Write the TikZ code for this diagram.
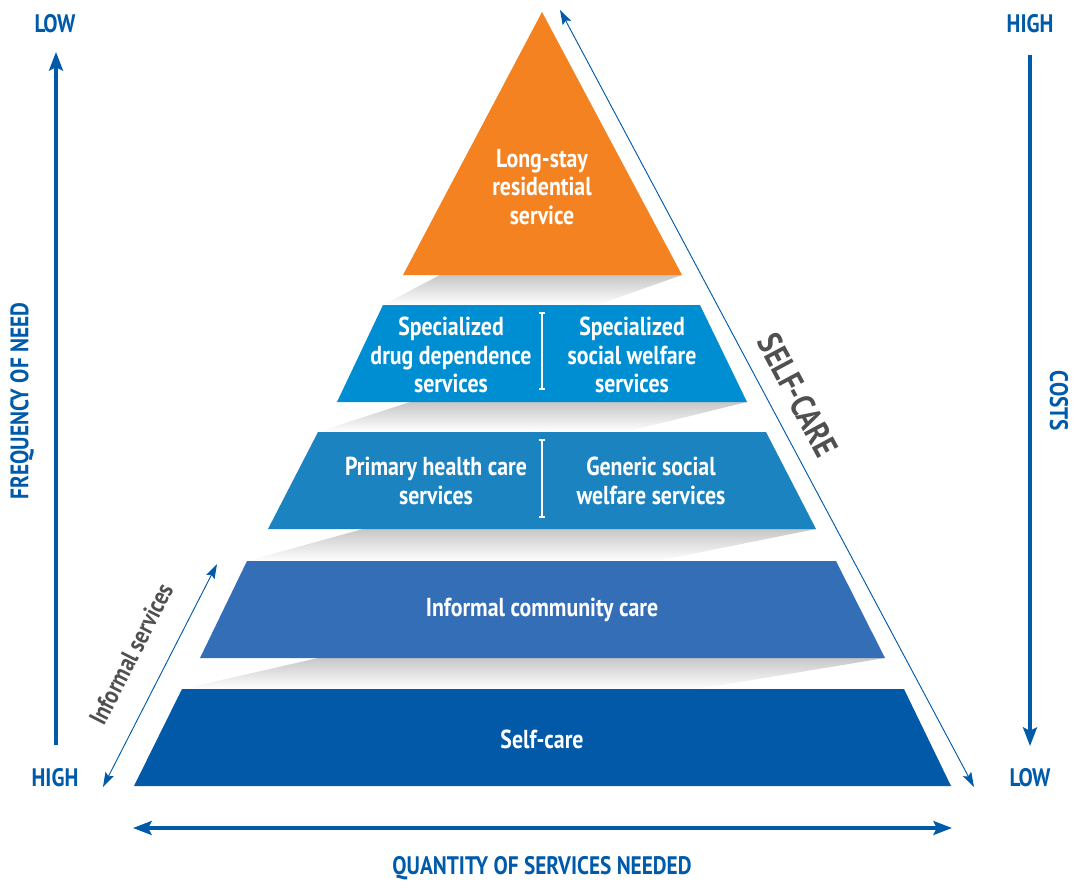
\documentclass[tikz,border=0pt]{standalone}
\usepackage{fontspec}
\setmainfont{PT Sans}[FakeStretch=0.84]
\usetikzlibrary{arrows.meta}
\definecolor{axisblue}{RGB}{0,90,170}
\definecolor{orangeT}{RGB}{244,130,32}
\definecolor{tierA}{RGB}{0,142,210}
\definecolor{tierB}{RGB}{27,131,192}
\definecolor{tierC}{RGB}{52,110,182}
\definecolor{tierD}{RGB}{2,89,168}
\definecolor{grayT}{RGB}{80,80,80}
\tikzset{
  tiertext/.style={text=white, font=\bfseries\fontsize{19.5}{21.5}\selectfont, align=center, inner sep=0pt},
  axislabel/.style={text=axisblue, font=\bfseries\fontsize{19}{20}\selectfont, inner sep=0pt},
  axisarrow/.style={draw=axisblue, line width=2.3pt, -{Stealth[length=14pt,width=10.5pt,inset=2.5pt]}},
  thinarrow/.style={draw=axisblue, line width=0.7pt, {Stealth[length=11pt,width=7pt,inset=2pt]}-{Stealth[length=11pt,width=7pt,inset=2pt]}},
  shadow/.style={top color=black!22, bottom color=white, draw=none},
  divider/.style={draw=white, line width=1pt},
}
\begin{document}
\begin{tikzpicture}[x=0.75pt,y=-0.75pt]
\useasboundingbox (0,0) rectangle (1074,881);
% shadows
\shade[shadow] (440,275) -- (682,275) -- (597,305) -- (383,305) -- cycle;
\shade[shadow] (410,402) -- (747,402) -- (625,432) -- (318,432) -- cycle;
\shade[shadow] (363,529) -- (816,529) -- (657,561) -- (247,561) -- cycle;
\shade[shadow] (318,658) -- (885,658) -- (698,689) -- (182,689) -- cycle;
% tiers
\fill[orangeT] (542,12) -- (682,275) -- (403,275) -- cycle;
\fill[tierA] (383,305) -- (700,305) -- (747,402) -- (337,402) -- cycle;
\fill[tierB] (318,432) -- (766,432) -- (816,529) -- (268,529) -- cycle;
\fill[tierC] (247,561) -- (836,561) -- (885,658) -- (200,658) -- cycle;
\fill[tierD] (182,689) -- (904,689) -- (951,786) -- (134,786) -- cycle;
% dividers
\draw[divider] (542,313) -- (542,389);
\draw[divider] (539,313) -- (545,313) (539,389) -- (545,389);
\draw[divider] (542,440) -- (542,517);
\draw[divider] (539,440) -- (545,440) (539,517) -- (545,517);
% tier texts
\node[tiertext] (longstay) at (542,187) {Long-stay\\residential\\service};
\node[tiertext] (specdrug) at (451,355) {Specialized\\drug dependence\\services};
\node[tiertext] (specsoc) at (632,355) {Specialized\\social welfare\\services};
\node[tiertext] (primary) at (436,481) {Primary health care\\services};
\node[tiertext] (generic) at (651,481) {Generic social\\welfare services};
\node[tiertext] (informal) at (542,610) {Informal community care};
\node[tiertext] (selfcare) at (542,739) {Self-care};
% axis labels
\node[axislabel] (lowL) at (55,24) {LOW};
\node[axislabel] (highL) at (55,778) {HIGH};
\node[axislabel] (highR) at (1030,24) {HIGH};
\node[axislabel] (lowR) at (1030,778) {LOW};
\node[axislabel, rotate=90] (freq) at (22,401) {FREQUENCY OF NEED};
\node[axislabel, rotate=-90] (costs) at (1059,401) {COSTS};
\node[axislabel] (quantity) at (542,868) {QUANTITY OF SERVICES NEEDED};
% axis arrows
\coordinate (lTop) at (56,52);
\coordinate (lBot) at (56,745);
\coordinate (rTop) at (1030,55);
\coordinate (rBot) at (1030,746);
\coordinate (bL) at (133,828);
\coordinate (bR) at (952,828);
\draw[axisarrow] (lBot) -- (lTop);
\draw[axisarrow] (rTop) -- (rBot);
\draw[axisarrow, {Stealth[length=14pt,width=10.5pt,inset=2.5pt]}-{Stealth[length=14pt,width=10.5pt,inset=2.5pt]}] (bL) -- (bR);
% diagonal arrows
\coordinate (scTop) at (560,10);
\coordinate (scBot) at (974,787);
\draw[thinarrow] (scTop) -- (scBot);
\node[text=grayT, font=\bfseries\fontsize{25.5}{27}\selectfont, rotate=-61.9, inner sep=0pt] (selfcarelbl) at (798,395) {SELF-CARE};
\coordinate (isTop) at (217,564);
\coordinate (isBot) at (103,787);
\draw[thinarrow] (isBot) -- (isTop);
\node[text=grayT, font=\bfseries\fontsize{19}{20}\selectfont, rotate=63, inner sep=0pt] (informallbl) at (131,654) {Informal services};
\end{tikzpicture}
\end{document}
